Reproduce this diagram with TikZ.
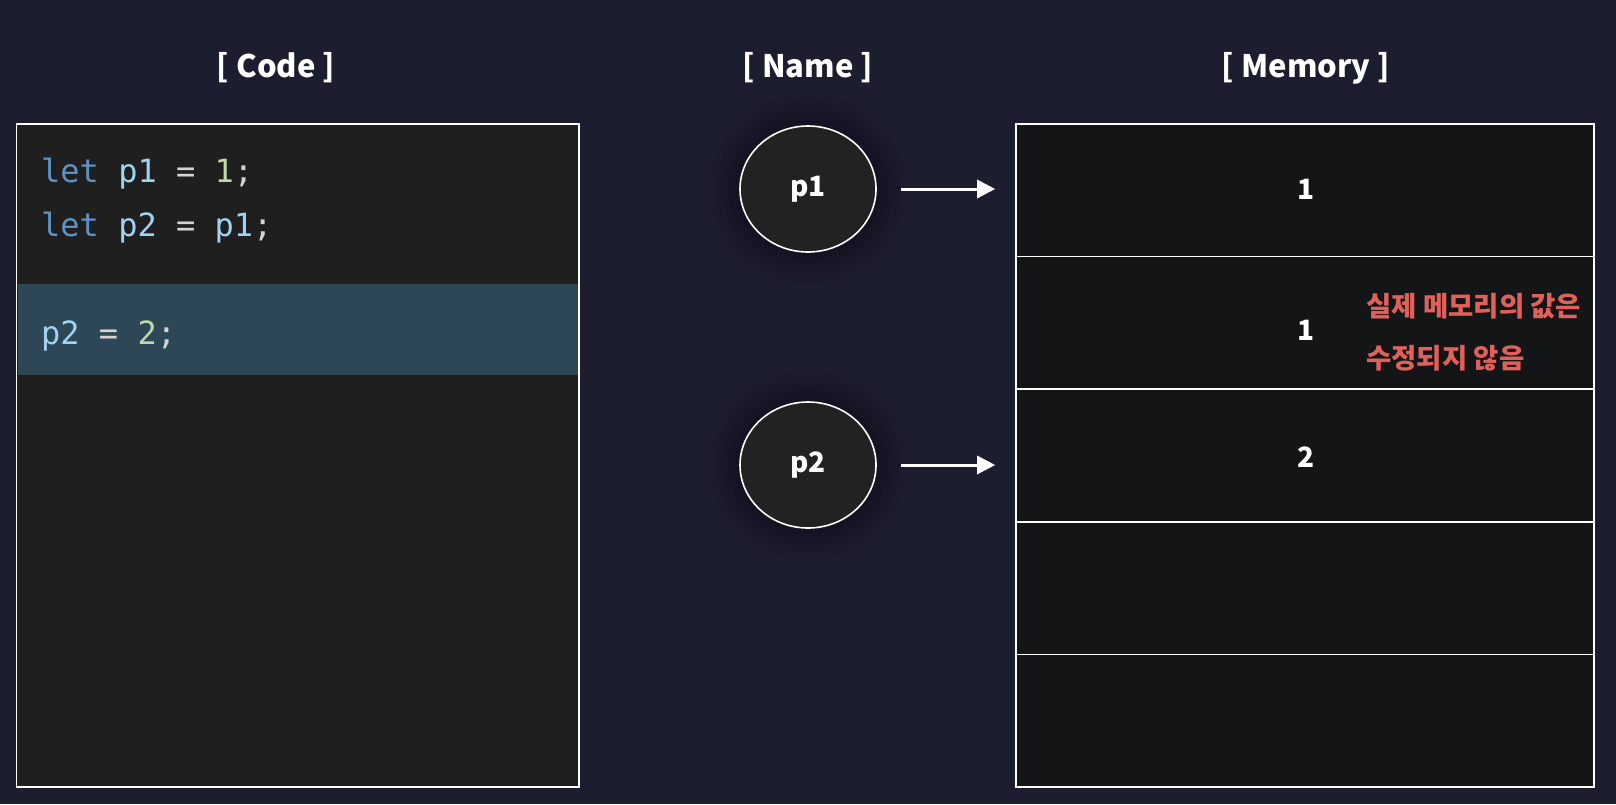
\documentclass[tikz,border=0pt]{standalone}
\usepackage{fontspec}
\setmainfont{Noto Sans CJK KR}
\newfontfamily\codefont{DejaVu Sans Mono}
\usetikzlibrary{arrows.meta,shapes.geometric}
\definecolor{bgc}{HTML}{1D1D30}
\definecolor{codebg}{HTML}{1F1F1F}
\definecolor{hlc}{HTML}{2E4757}
\definecolor{membg}{HTML}{131517}
\definecolor{circbg}{HTML}{222222}
\definecolor{kwc}{HTML}{5E93C6}
\definecolor{varc}{HTML}{9ED4F2}
\definecolor{numc}{HTML}{C3D6A6}
\definecolor{opc}{HTML}{D4D4D4}
\definecolor{redc}{HTML}{E0605A}
\tikzset{
  title/.style={text=white,font=\fontsize{31}{35}\selectfont\bfseries,anchor=base},
  codeline/.style={anchor=base west,inner sep=0pt,font=\codefont\fontsize{32}{36}\selectfont},
  namecirc/.style={ellipse,draw=white,line width=1.6pt,fill=circbg,minimum width=136pt,minimum height=126pt,text=white,font=\fontsize{28}{30}\selectfont\bfseries},
  memcell/.style={rectangle,draw=white,line width=1.6pt,fill=membg,minimum width=578pt,minimum height=132.6pt,inner sep=0pt},
  memval/.style={text=white,font=\fontsize{28}{30}\selectfont\bfseries},
  note/.style={anchor=base west,inner sep=0pt,text=redc,font=\fontsize{27.5}{30}\selectfont\bfseries},
  ptr/.style={draw=white,line width=3pt,-{Triangle[length=18pt,width=18pt]},shorten <=24pt,shorten >=20pt}
}
\begin{document}
\begin{tikzpicture}[x=1pt,y=-1pt]
\fill[bgc] (0,0) rectangle (1616,804);
\useasboundingbox (0,0) rectangle (1616,804);
% titles
\node[title] (tcode) at (276,77) {[ Code ]};
\node[title] (tname) at (808,77) {[ Name ]};
\node[title] (tmem) at (1306,77) {[ Memory ]};
% code box
\node[draw=white,line width=1.4pt,fill=codebg,minimum width=562.5pt,minimum height=663pt,inner sep=0pt] (code) at (297.75,455.5) {};
\fill[hlc] (17.5,284) rectangle (578,375);
\node[codeline] (l1) at (41,182) {\textcolor{kwc}{let} \textcolor{varc}{p1} \textcolor{opc}{=} \textcolor{numc}{1}\textcolor{opc}{;}};
\node[codeline] (l2) at (41,236) {\textcolor{kwc}{let} \textcolor{varc}{p2} \textcolor{opc}{=} \textcolor{varc}{p1}\textcolor{opc}{;}};
\node[codeline] (l3) at (41,344) {\textcolor{varc}{p2} \textcolor{opc}{=} \textcolor{numc}{2}\textcolor{opc}{;}};
% glows
\foreach \cy in {189,465}{
  \foreach \r in {30,24,18,12,6}{
    \fill[black,opacity=0.05] (808,\cy) ellipse ({68+\r} and {63+\r});
  }
}
% name circles
\node[namecirc] (p1) at (808,189) {p1};
\node[namecirc] (p2) at (808,465) {p2};
% memory
\node[memcell] (m1) at (1305,190.3) {};
\node[memcell] (m2) at (1305,322.9) {};
\node[memcell] (m3) at (1305,455.5) {};
\node[memcell] (m4) at (1305,588.1) {};
\node[memcell] (m5) at (1305,720.7) {};
\node[memval] (v1) at (1306,189) {1};
\node[memval] (v2) at (1306,330) {1};
\node[memval] (v3) at (1306,457) {2};
\node[note] (n1) at (1366,316) {실제 메모리의 값은};
\node[note] (n2) at (1366,368) {수정되지 않음};
% arrows
\draw[ptr] (p1.east) -- (p1.east -| m1.west);
\draw[ptr] (p2.east) -- (p2.east -| m3.west);
\end{tikzpicture}
\end{document}
